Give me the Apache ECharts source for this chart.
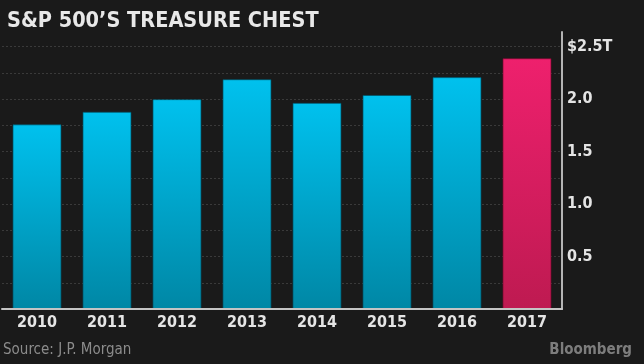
<!DOCTYPE html>
<html>
<head>
<meta charset="utf-8">
<script src="https://cdn.jsdelivr.net/npm/echarts@6/dist/echarts.min.js"></script>
<style>
html,body{margin:0;padding:0;background:#1a1a1a;}
#c{width:644px;height:364px;}
</style>
</head>
<body>
<div id="c"></div>
<script>
const categories = ['2010','2011','2012','2013','2014','2015','2016','2017'];
const cashValues = [1.76, 1.88, 2.00, 2.19, 1.965, 2.04, 2.21, 2.39];
const highlightYear = '2017';
const yTickLabels = {0.5:'0.5', 1:'1.0', 1.5:'1.5', 2:'2.0', 2.5:'$2.5T'};

const blue = new echarts.graphic.LinearGradient(0,0,0,1,[{offset:0,color:'#00c1ee'},{offset:1,color:'#0087a5'}]);
const pink = new echarts.graphic.LinearGradient(0,0,0,1,[{offset:0,color:'#ee206d'},{offset:1,color:'#be1a51'}]);

const chart = echarts.init(document.getElementById('c'));
chart.setOption({
  backgroundColor:'#1a1a1a',
  animation:false,
  title:{
    text:"S&P 500’S TREASURE CHEST",
    left:2, top:5,
    textStyle:{color:'#e8e8e8', fontSize:21.5, fontWeight:'bold', fontFamily:'DejaVu Sans Condensed'}
  },
  graphic:[
    {type:'text', left:3, top:343, style:{text:'Source: J.P. Morgan', fill:'#8c8c8c', fontSize:15, fontFamily:'DejaVu Sans Condensed'}},
    {type:'text', right:12, top:343, style:{text:'Bloomberg', fill:'#7d7d7d', fontSize:15, fontWeight:'bold', fontFamily:'DejaVu Sans Condensed'}}
  ],
  grid:{left:2, top:32, width:560, height:277},
  xAxis:{
    type:'category', data:categories, z:5,
    axisTick:{show:false},
    axisLine:{lineStyle:{color:'#c4c4c4', width:2}},
    axisLabel:{color:'#e4e4e4', fontSize:16, fontWeight:'bold', fontFamily:'DejaVu Sans Condensed', margin:6}
  },
  yAxis:{
    type:'value', position:'right', min:0, max:2.64, interval:0.25,
    axisLine:{show:true, lineStyle:{color:'#b4b4b4', width:2}},
    axisTick:{show:false},
    splitLine:{show:true, showMaxLine:false, lineStyle:{color:'#3a3a3a', width:1, type:[2,2]}},
    axisLabel:{
      color:'#e4e4e4', fontSize:16, fontWeight:'bold', fontFamily:'DejaVu Sans Condensed', margin:5,
      showMaxLabel:false, showMinLabel:false,
      formatter:v => yTickLabels[v] || ''
    }
  },
  series:[{
    type:'bar', barCategoryGap:'30%',
    data:cashValues.map((v,i)=>({
      value:v,
      itemStyle:{color: categories[i]===highlightYear ? pink : blue,
                 borderColor: categories[i]===highlightYear ? 'rgba(120,10,45,0.7)' : 'rgba(0,80,100,0.7)', borderWidth:1}
    }))
  }]
});
</script>
</body>
</html>
